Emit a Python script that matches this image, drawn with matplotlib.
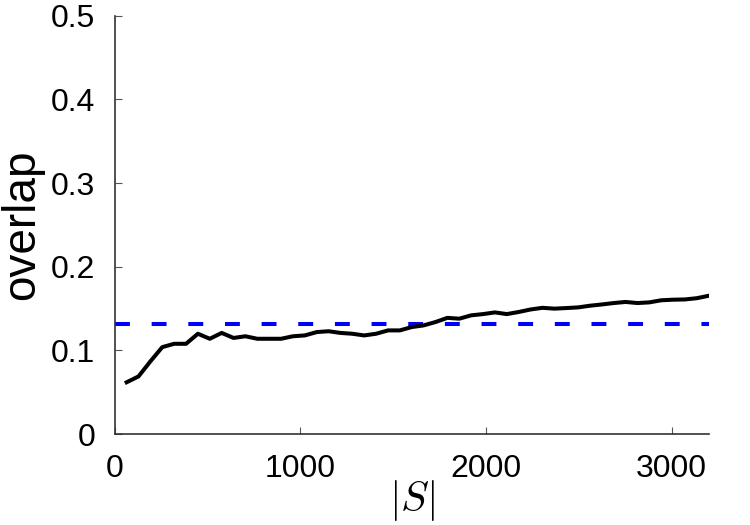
import matplotlib
matplotlib.use('Agg')
import matplotlib.pyplot as plt
import numpy as np

plt.rcParams['font.family'] = ['Liberation Sans', 'DejaVu Sans']
plt.rcParams['mathtext.fontset'] = 'cm'

# Size of the set |S|
set_size = np.arange(64, 3201, 64)
# Overlap measured at each set size
overlap = [0.062, 0.069, 0.087, 0.104, 0.108, 0.108, 0.120, 0.114, 0.121, 0.115,
           0.117, 0.114, 0.114, 0.114, 0.117, 0.118, 0.122, 0.123, 0.121, 0.120,
           0.118, 0.120, 0.124, 0.124, 0.128, 0.130, 0.134, 0.139, 0.138, 0.142,
           0.1435, 0.1455, 0.1435, 0.146, 0.149, 0.151, 0.150, 0.1507, 0.1515, 0.1535,
           0.155, 0.1567, 0.158, 0.1567, 0.1575, 0.160, 0.1607, 0.161, 0.1625, 0.1654]
# Baseline overlap (dashed line)
baseline = 0.1316

x_ticks = [0, 1000, 2000, 3000]
y_ticks = [0, 0.1, 0.2, 0.3, 0.4, 0.5]
y_tick_labels = ['0', '0.1', '0.2', '0.3', '0.4', '0.5']

fig = plt.figure(figsize=(7.5, 5.25), dpi=100)
ax = fig.add_axes([0.153, 0.173, 0.792, 0.797])

ax.axhline(baseline, color='#0000ff', lw=2.9, linestyle=(0, (3.7, 5.4)))
ax.plot(set_size, overlap, color='black', lw=2.9)

ax.set_xlim(0, 3200)
ax.set_ylim(0, 0.5)
ax.set_xticks(x_ticks)
ax.set_yticks(y_ticks)
ax.set_yticklabels(y_tick_labels)

ax.set_xlabel(r'$|S|$', fontsize=30, labelpad=-4)
ax.set_ylabel('overlap', fontsize=33, labelpad=5)

ax.spines['right'].set_color('none')
ax.spines['top'].set_color('none')
for s in ['left', 'bottom']:
    ax.spines[s].set_color('#333333')
    ax.spines[s].set_linewidth(1.2)
ax.tick_params(direction='in', length=5, width=0.8, color='#555555',
               labelsize=23, pad=14)

fig.savefig('out.png', dpi=100)
